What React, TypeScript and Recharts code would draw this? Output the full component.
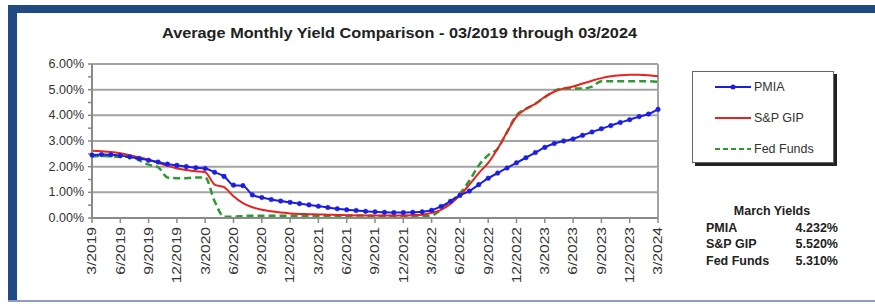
import { LineChart, Line, XAxis, YAxis, ReferenceLine } from "recharts";

const months = [
  "3/2019", "4/2019", "5/2019", "6/2019", "7/2019", "8/2019", "9/2019", "10/2019", "11/2019", "12/2019",
  "1/2020", "2/2020", "3/2020", "4/2020", "5/2020", "6/2020", "7/2020", "8/2020", "9/2020", "10/2020", "11/2020", "12/2020",
  "1/2021", "2/2021", "3/2021", "4/2021", "5/2021", "6/2021", "7/2021", "8/2021", "9/2021", "10/2021", "11/2021", "12/2021",
  "1/2022", "2/2022", "3/2022", "4/2022", "5/2022", "6/2022", "7/2022", "8/2022", "9/2022", "10/2022", "11/2022", "12/2022",
  "1/2023", "2/2023", "3/2023", "4/2023", "5/2023", "6/2023", "7/2023", "8/2023", "9/2023", "10/2023", "11/2023", "12/2023",
  "1/2024", "2/2024", "3/2024",
];

const pmia = [
  2.45, 2.47, 2.46, 2.43, 2.38, 2.32, 2.25, 2.18, 2.1, 2.05,
  2.0, 1.96, 1.93, 1.78, 1.62, 1.28, 1.26, 0.9, 0.8, 0.72, 0.66, 0.61,
  0.56, 0.51, 0.46, 0.41, 0.36, 0.32, 0.29, 0.26, 0.24, 0.22, 0.21, 0.21,
  0.22, 0.24, 0.3, 0.45, 0.65, 0.88, 1.05, 1.3, 1.55, 1.75, 1.95, 2.15,
  2.35, 2.55, 2.75, 2.9, 3.0, 3.08, 3.22, 3.35, 3.48, 3.6, 3.72, 3.83,
  3.95, 4.05, 4.232,
];

const spGip = [
  2.62, 2.6, 2.57, 2.52, 2.45, 2.37, 2.27, 2.15, 2.03, 1.93,
  1.87, 1.82, 1.78, 1.3, 1.2, 0.85, 0.58, 0.42, 0.32, 0.26, 0.21, 0.18,
  0.16, 0.15, 0.14, 0.13, 0.12, 0.11, 0.1, 0.1, 0.1, 0.1, 0.1, 0.1,
  0.11, 0.13, 0.2, 0.32, 0.55, 0.88, 1.3, 1.75, 2.15, 2.7, 3.35, 3.95,
  4.25, 4.45, 4.72, 4.92, 5.05, 5.12, 5.24, 5.35, 5.45, 5.52, 5.56, 5.58,
  5.58, 5.56, 5.52,
];

const fedFunds = [
  2.4, 2.42, 2.4, 2.38, 2.4, 2.25, 2.08, 1.98, 1.58, 1.55,
  1.55, 1.58, 1.58, 0.65, 0.05, 0.05, 0.08, 0.09, 0.09, 0.09, 0.09, 0.09,
  0.09, 0.08, 0.07, 0.07, 0.06, 0.08, 0.1, 0.09, 0.08, 0.08, 0.08, 0.08,
  0.08, 0.08, 0.1, 0.33, 0.65, 0.95, 1.45, 2.05, 2.45, 2.7, 3.35, 4.0,
  4.25, 4.45, 4.7, 4.95, 5.05, 5.05, 5.05, 5.12, 5.33, 5.33, 5.33, 5.33,
  5.33, 5.33, 5.31,
];

const xTicks = [
  "3/2019", "6/2019", "9/2019", "12/2019", "3/2020", "6/2020", "9/2020", "12/2020",
  "3/2021", "6/2021", "9/2021", "12/2021", "3/2022", "6/2022", "9/2022", "12/2022",
  "3/2023", "6/2023", "9/2023", "12/2023", "3/2024",
];
const yTicks = [0, 0.5, 1, 1.5, 2, 2.5, 3, 3.5, 4, 4.5, 5, 5.5, 6];
const gridValues = [1, 2, 3, 4, 5, 6];

const marchYields = [
  { name: "PMIA", value: "4.232%" },
  { name: "S&P GIP", value: "5.520%" },
  { name: "Fed Funds", value: "5.310%" },
];

const data = months.map((m, i) => ({
  month: m,
  pmia: pmia[i],
  spGip: spGip[i],
  fedFunds: fedFunds[i],
}));

const FONT = "'Liberation Sans', Arial, sans-serif";
const BLUE = "#1c1ee0";
const RED = "#e8231f";
const GREEN = "#2f9a35";

function XTick(props: any) {
  const { x, y, payload } = props;
  return (
    <text
      transform={`translate(${x},${y + 2}) scale(1,1.3) rotate(-90)`}
      textAnchor="end"
      dominantBaseline="central"
      fontSize={12}
      fontFamily={FONT}
      fill="#333"
    >
      {payload.value}
    </text>
  );
}

function YTick(props: any) {
  const { x, y, payload } = props;
  if (payload.value % 1 !== 0) return null;
  return (
    <text
      x={x - 2}
      y={y}
      textAnchor="end"
      dominantBaseline="central"
      fontSize={12.5}
      fontFamily={FONT}
      fill="#333"
    >
      {payload.value.toFixed(2)}%
    </text>
  );
}

function LegendBox() {
  const items = [
    { name: "PMIA", color: BLUE, dash: undefined as string | undefined, dot: true },
    { name: "S&P GIP", color: RED, dash: undefined, dot: false },
    { name: "Fed Funds", color: GREEN, dash: "5 3", dot: false },
  ];
  return (
    <div
      style={{
        position: "absolute",
        left: 692,
        top: 71,
        width: 140,
        height: 90,
        background: "#fff",
        border: "1px solid #666",
        boxShadow: "3px 3px 0 #222",
      }}
    >
      {items.map((it, i) => (
        <div
          key={it.name}
          style={{
            position: "absolute",
            left: 22,
            top: 7 + i * 31,
            height: 16,
            display: "flex",
            alignItems: "center",
            fontFamily: FONT,
            fontSize: 12.5,
            color: "#333",
          }}
        >
          <svg width={36} height={10} style={{ marginRight: 3 }}>
            <line x1={0} y1={5} x2={36} y2={5} stroke={it.color} strokeWidth={2} strokeDasharray={it.dash} />
            {it.dot && <circle cx={18} cy={5} r={2.5} fill={it.color} />}
          </svg>
          {it.name}
        </div>
      ))}
    </div>
  );
}

function MarchYields() {
  return (
    <div style={{ position: "absolute", left: 706, top: 203, width: 132, fontFamily: FONT, fontWeight: "bold", fontSize: 12.5, color: "#222", lineHeight: "16.5px" }}>
      <div style={{ textAlign: "center" }}>March Yields</div>
      {marchYields.map((r) => (
        <div key={r.name} style={{ display: "flex", justifyContent: "space-between" }}>
          <span>{r.name}</span>
          <span>{r.value}</span>
        </div>
      ))}
    </div>
  );
}

export default function App() {
  return (
    <div style={{ position: "fixed", left: 0, top: 0, width: 875, height: 304, background: "#fff", overflow: "hidden" }}>
      <div style={{ position: "absolute", left: 8, top: 5, width: 867, height: 8, background: "#1f4a82" }} />
      <div style={{ position: "absolute", left: 8, top: 5, width: 9, height: 296, background: "#1f4a82" }} />
      <div style={{ position: "absolute", left: 8, top: 300, width: 867, height: 2, background: "#8d9cc0" }} />
      <svg style={{ position: "absolute", left: 0, top: 0 }} width={875} height={50}>
        <text
          x={162}
          y={38}
          textLength={475}
          lengthAdjust="spacingAndGlyphs"
          fontFamily={FONT}
          fontWeight="bold"
          fontSize={15}
          fill="#222"
        >
          Average Monthly Yield Comparison - 03/2019 through 03/2024
        </text>
      </svg>
      <div style={{ position: "absolute", left: 0, top: 0 }}>
        <LineChart width={875} height={304} data={data} margin={{ top: 64, right: 217, bottom: 16, left: 22 }}>
          {gridValues.map((v) => (
            <ReferenceLine key={v} y={v} stroke="#a3a3a3" strokeWidth={2} />
          ))}
          <ReferenceLine x="3/2024" stroke="#a3a3a3" strokeWidth={2} />
          <XAxis
            dataKey="month"
            ticks={xTicks}
            interval={0}
            tick={<XTick />}
            tickSize={5}
            tickLine={{ stroke: "#8a8a8a", strokeWidth: 1.5 }}
            axisLine={{ stroke: "#8a8a8a", strokeWidth: 2 }}
            height={70}
          />
          <YAxis
            type="number"
            domain={[0, 6]}
            ticks={yTicks}
            interval={0}
            tick={<YTick />}
            tickSize={4}
            tickLine={{ stroke: "#8a8a8a", strokeWidth: 1.5 }}
            axisLine={{ stroke: "#8a8a8a", strokeWidth: 2 }}
            width={70}
          />
          <Line
            type="monotone"
            dataKey="fedFunds"
            stroke={GREEN}
            strokeWidth={2.5}
            strokeDasharray="7 4"
            dot={false}
            isAnimationActive={false}
          />
          <Line type="monotone" dataKey="spGip" stroke={RED} strokeWidth={2} dot={false} isAnimationActive={false} />
          <Line
            type="monotone"
            dataKey="pmia"
            stroke={BLUE}
            strokeWidth={2}
            dot={{ r: 2.3, fill: BLUE, stroke: BLUE, strokeWidth: 0.5 }}
            isAnimationActive={false}
          />
        </LineChart>
      </div>
      <LegendBox />
      <MarchYields />
    </div>
  );
}
